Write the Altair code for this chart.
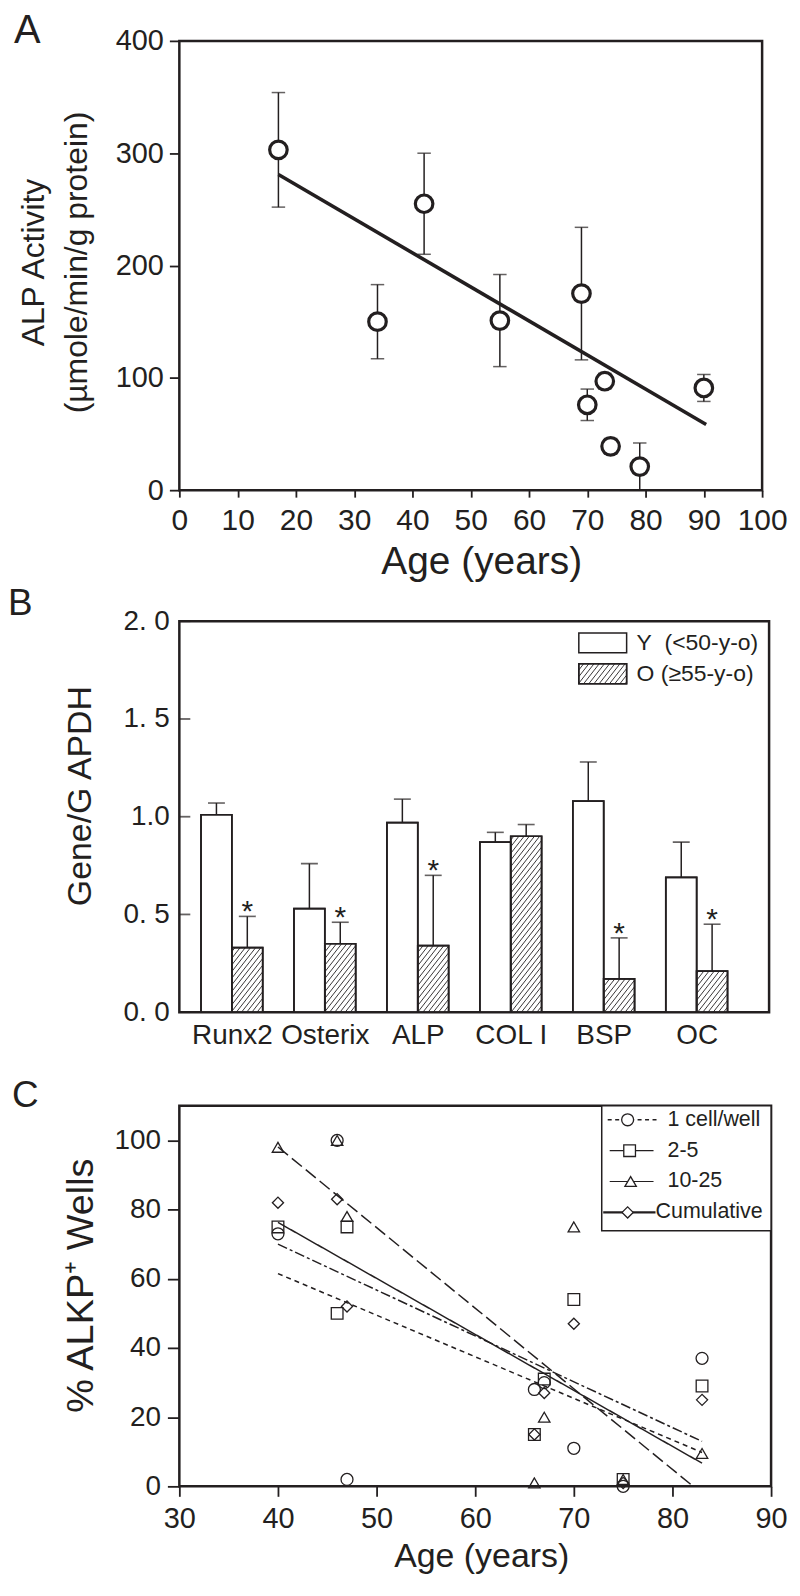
import json
import math
import altair as alt
import pandas as pd

FONT = "Liberation Sans"
INK = "#231f20"

# ---------------- data ----------------
# Panel A: ALP activity vs age (mean, SD) and the regression line
a_age = [17, 34, 42, 55, 69, 70, 73, 74, 79, 90]
a_alp = [303, 150, 255, 151, 175, 76, 97, 39, 21, 91]
a_err = [51, 33, 45, 41, 59, 14, 7, 7, 21, 12]
a_fit_age = [17, 90.4]
a_fit_alp = [281, 58.5]
a_xticks = list(range(0, 101, 10))
a_yticks = [0, 100, 200, 300, 400]

# Panel B: gene expression young vs old
b_genes = ["Runx2", "Osterix", "ALP", "COL I", "BSP", "OC"]
b_young = [1.01, 0.53, 0.97, 0.87, 1.08, 0.69]
b_young_err = [0.06, 0.23, 0.12, 0.05, 0.20, 0.18]
b_old = [0.33, 0.35, 0.34, 0.90, 0.17, 0.21]
b_old_err = [0.16, 0.11, 0.36, 0.06, 0.21, 0.24]
b_star = [True, True, True, False, True, True]
b_groups = ["Y\u00a0 (<50-y-o)", "O (\u226555-y-o)"]
b_yticks = [0, 0.5, 1.0, 1.5, 2.0]
b_ylabels = ["0. 0", "0. 5", "1.0", "1. 5", "2. 0"]

# Panel C: % ALKP+ wells vs age for four seeding densities
c_series = ["1 cell/well", "2-5", "10-25", "Cumulative"]
c_age = [40, 46, 47, 66, 67, 70, 75, 83]
c_one = [73, 100, 2, 28, 30, 11, 0, 37]
c_two = [75, 50, 75, 15, 31, 54, 2, 29]
c_ten = [98, 100, 78, 1, 20, 75, 2, 9.5]
c_cum = [82, 83, 52, 15, 27, 47, 1, 25]
c_fit_age = [[40, 83], [40, 83], [40, 82.1], [40, 83]]
c_fit_val = [[61.5, 9.8], [70, 13.0], [98.1, 0], [76.3, 6.7]]
c_xticks = list(range(30, 91, 10))
c_yticks = list(range(0, 101, 20))

# ---------------- layout ----------------
WA, HA = 585, 451
WB, HB = 592, 392.4
WC, HC = 594, 382
SPACING = 94            # gap B -> C (and A -> B, plus TOPB below)
TOPB = 37.6             # extra empty band at the top of panel B's view
B_DOM = [0.435, 6.779]
BAR_W = 0.332

one = pd.DataFrame({"k": [0]})


def letter(t, x, y, size):
    return alt.Chart(pd.DataFrame({"t": [t]})).mark_text(
        align="left", baseline="alphabetic", fontSize=size, font=FONT, color=INK
    ).encode(text="t:N", x=alt.value(x), y=alt.value(y))


def frame(w, y0, y1):
    return alt.Chart(one).mark_rect(fillOpacity=0, stroke=INK, strokeWidth=2.5).encode(
        x=alt.value(0), x2=alt.value(w), y=alt.value(y0), y2=alt.value(y1))


def hatch(px0, px1, pv0, pv1, spacing=4.1, angle=52.0):
    """Diagonal hatch segments inside a rectangle given in pixel units
    (x to the right, v upwards). Returns list of (xa, va, xb, vb)."""
    t = math.tan(math.radians(angle))
    hs = spacing / math.sin(math.radians(angle))
    h = pv1 - pv0
    segs = []
    k0 = math.floor((px0 - h / t) / hs) - 1
    k1 = math.ceil(px1 / hs) + 1
    for k in range(k0, k1 + 1):
        s = k * hs
        lo = max(0.0, (px0 - s) * t)
        hi = min(h, (px1 - s) * t)
        if hi - lo > 0.3:
            segs.append((s + lo / t, pv0 + lo, s + hi / t, pv0 + hi))
    return segs


# ---------------- Panel A ----------------
def a_x(field):
    return alt.X(f"{field}:Q", scale=alt.Scale(domain=[0, 100], nice=False, zero=False),
                 axis=alt.Axis(values=a_xticks, title="Age (years)", tickSize=7,
                               labelFontSize=30, labelPadding=8, titleFontSize=39,
                               titleX=303, titleY=84, titleBaseline="alphabetic"))


def a_y(field):
    return alt.Y(f"{field}:Q", scale=alt.Scale(domain=[0, 400], nice=False, zero=False),
                 axis=alt.Axis(values=a_yticks, title=["ALP Activity", "(\u00b5mole/min/g protein)"],
                               tickSize=10, labelFontSize=29, labelPadding=6,
                               titleFontSize=32, titleLineHeight=43, titleX=-146, titleY=222,
                               titleBaseline="middle", titleAngle=270))


dfa = pd.DataFrame({"age": a_age, "alp": a_alp, "err": a_err})
dfa["lo"] = (dfa["alp"] - dfa["err"]).clip(lower=0)
dfa["hi"] = dfa["alp"] + dfa["err"]
base_a = alt.Chart(dfa)
a_rule = base_a.mark_rule(color=INK, strokeWidth=1.5).encode(x=a_x("age"), y=a_y("lo"), y2="hi:Q")
a_cap_lo = base_a.mark_tick(orient="horizontal", size=13.5, thickness=1.5, color=INK).encode(
    x=a_x("age"), y=a_y("lo"))
a_cap_hi = base_a.mark_tick(orient="horizontal", size=13.5, thickness=1.5, color=INK).encode(
    x=a_x("age"), y=a_y("hi"))
a_fit = alt.Chart(pd.DataFrame({"age": a_fit_age, "alp": a_fit_alp})).mark_line(
    color=INK, strokeWidth=3.6).encode(x=a_x("age"), y=a_y("alp"))
a_pts = base_a.mark_point(shape="circle", size=310, filled=True, fill="white", stroke=INK,
                          strokeWidth=3.2, opacity=1, fillOpacity=1).encode(x=a_x("age"), y=a_y("alp"))
panelA = alt.layer(frame(WA, 0, HA), a_rule, a_cap_lo, a_cap_hi, a_fit, a_pts,
                   letter("A", -166, 2.3, 40)).properties(width=WA, height=HA)

# ---------------- Panel B ----------------
x_label_expr = json.dumps(b_genes) + "[round(datum.value) - 1]"
y_label_expr = json.dumps(b_ylabels) + "[round(datum.value * 2)]"
HBV = HB + TOPB


def b_x(field):
    return alt.X(f"{field}:Q", scale=alt.Scale(domain=B_DOM, nice=False, zero=False),
                 axis=alt.Axis(values=[1, 2, 3, 4, 5, 6], labelExpr=x_label_expr, ticks=False,
                               tickSize=0, labelFontSize=28, labelPadding=9, title=None))


def b_y(field):
    return alt.Y(f"{field}:Q", scale=alt.Scale(domain=[0, 2], nice=False, zero=False,
                                               range=[HBV, TOPB]),
                 axis=alt.Axis(values=b_yticks, labelExpr=y_label_expr, ticks=False, tickSize=0,
                               labelPadding=10, labelFontSize=28, title="Gene/G APDH",
                               titleFontSize=34, titleX=-99, titleY=175 + TOPB,
                               titleBaseline="middle", titleAngle=270))


rows = []
for i, g in enumerate(b_genes):
    c = i + 1
    rows.append({"gene": g, "grp": "Y", "x0": c - BAR_W, "x1": c, "val": b_young[i],
                 "err": b_young_err[i], "star": False})
    rows.append({"gene": g, "grp": "O", "x0": c, "x1": c + BAR_W, "val": b_old[i],
                 "err": b_old_err[i], "star": b_star[i]})
dfb = pd.DataFrame(rows)
dfb["base"] = 0.0
dfb["xc"] = (dfb["x0"] + dfb["x1"]) / 2
dfb["top"] = dfb["val"] + dfb["err"]

# hatch lines of the old-donor bars, computed in pixel space and mapped back to data
sx = WB / (B_DOM[1] - B_DOM[0])
sy = HB / 2.0
hrows = []
for _, r in dfb[dfb["grp"] == "O"].iterrows():
    for xa, va, xb, vb in hatch((r.x0 - B_DOM[0]) * sx, (r.x1 - B_DOM[0]) * sx, 0.0, r.val * sy):
        hrows.append({"xa": xa / sx + B_DOM[0], "ya": va / sy, "xb": xb / sx + B_DOM[0], "yb": vb / sy})
dfh = pd.DataFrame(hrows)

base_b = alt.Chart(dfb)
b_fill = base_b.mark_rect(fill="white", stroke=INK, strokeWidth=1.7).encode(
    x=b_x("x0"), x2="x1:Q", y=b_y("base"), y2="val:Q")
b_hatch = alt.Chart(dfh).mark_rule(color=INK, strokeWidth=0.9).encode(
    x=b_x("xa"), x2="xb:Q", y=b_y("ya"), y2="yb:Q")
b_outline = base_b.mark_rect(fillOpacity=0, stroke=INK, strokeWidth=1.7).encode(
    x=b_x("x0"), x2="x1:Q", y=b_y("base"), y2="val:Q")
b_err = base_b.mark_rule(color=INK, strokeWidth=1.5).encode(x=b_x("xc"), y=b_y("val"), y2="top:Q")
b_cap = base_b.mark_tick(orient="horizontal", size=17, thickness=1.6, color=INK).encode(
    x=b_x("xc"), y=b_y("top"))
b_ast = base_b.transform_filter("datum.star").mark_text(
    text="*", fontSize=30, font=FONT, color=INK, baseline="alphabetic", dy=5).encode(
    x=b_x("xc"), y=b_y("top"))
b_ticks = alt.Chart(pd.DataFrame({"v": b_yticks})).mark_tick(
    orient="horizontal", size=11, thickness=1.8, color=INK).encode(y=b_y("v"), x=alt.value(5.5))

# legend (inside, top right)
LBX0, LBX1 = 401, 449
LBY = [(TOPB + 11.7, TOPB + 31.7), (TOPB + 42.7, TOPB + 62.7)]
b_leg_boxes = []
for j in range(2):
    b_leg_boxes.append(alt.Chart(one).mark_rect(fill="white", stroke=INK, strokeWidth=1.5).encode(
        x=alt.value(LBX0), x2=alt.value(LBX1), y=alt.value(LBY[j][0]), y2=alt.value(LBY[j][1])))
lh = hatch(LBX0, LBX1, 0.0, LBY[1][1] - LBY[1][0])
dflh = pd.DataFrame([{"xa": xa, "ya": LBY[1][1] - va, "xb": xb, "yb": LBY[1][1] - vb}
                     for xa, va, xb, vb in lh])
b_leg_hatch = alt.Chart(dflh).mark_rule(color=INK, strokeWidth=0.9).encode(
    x=alt.X("xa:Q", scale=None), x2="xb:Q", y=alt.Y("ya:Q", scale=None), y2="yb:Q")
b_leg_outline = alt.Chart(one).mark_rect(fillOpacity=0, stroke=INK, strokeWidth=1.5).encode(
    x=alt.value(LBX0), x2=alt.value(LBX1), y=alt.value(LBY[1][0]), y2=alt.value(LBY[1][1]))
dfl = pd.DataFrame({"label": b_groups, "ly": [(a + b) / 2 for a, b in LBY]})
b_leg_text = alt.Chart(dfl).mark_text(align="left", baseline="middle", fontSize=23, font=FONT,
                                      color=INK).encode(
    text="label:N", x=alt.value(459), y=alt.Y("ly:Q", scale=None))

panelB = alt.layer(frame(WB, TOPB, HBV), b_fill, b_hatch, b_outline, b_err, b_cap, b_ast, b_ticks,
                   *b_leg_boxes, b_leg_hatch, b_leg_outline, b_leg_text,
                   letter("B", -172, TOPB - 6.3, 37)).properties(width=WB, height=HBV)

# ---------------- Panel C ----------------
def c_x(field):
    return alt.X(f"{field}:Q", scale=alt.Scale(domain=[30, 90], nice=False, zero=False),
                 axis=alt.Axis(values=c_xticks, title="Age (years)", tickSize=10,
                               labelFontSize=29, labelPadding=8, titleFontSize=34,
                               titleX=303, titleY=80, titleBaseline="alphabetic"))


def c_y(field):
    return alt.Y(f"{field}:Q", scale=alt.Scale(domain=[0, 110], nice=False, zero=False),
                 axis=alt.Axis(values=c_yticks, title="% ALKP\u207a Wells", tickSize=12,
                               labelFontSize=28, labelPadding=7, titleFontSize=38,
                               titleX=-98, titleY=180, titleBaseline="middle", titleAngle=270))


SHAPES = ["circle", "square", "triangle-up", "diamond"]
SIZES = [144, 125, 150, 115]
DASHES = [[5, 4], [10, 3, 3, 3], [13, 5], [1, 0]]
WIDTHS = [1.5, 1.5, 1.3, 2.2]

vals = [c_one, c_two, c_ten, c_cum]
dfc = pd.DataFrame([{"series": s, "age": a, "val": v}
                    for s, vs in zip(c_series, vals) for a, v in zip(c_age, vs)])
dff = pd.DataFrame([{"series": s, "age": a, "val": v}
                    for s, ax, vx in zip(c_series, c_fit_age, c_fit_val) for a, v in zip(ax, vx)])

shape_enc = alt.Shape("series:N", scale=alt.Scale(domain=c_series, range=SHAPES), legend=None)
size_enc = alt.Size("series:N", scale=alt.Scale(domain=c_series, range=SIZES), legend=None)

c_lines = alt.Chart(dff).mark_line(color=INK).encode(
    x=c_x("age"), y=c_y("val"), detail="series:N",
    strokeDash=alt.StrokeDash("series:N", scale=alt.Scale(domain=c_series, range=DASHES), legend=None),
    strokeWidth=alt.StrokeWidth("series:N", scale=alt.Scale(domain=c_series, range=WIDTHS), legend=None))
c_pts = alt.Chart(dfc).mark_point(filled=False, color=INK, strokeWidth=1.3, opacity=1).encode(
    x=c_x("age"), y=c_y("val"), shape=shape_enc, size=size_enc)

# legend box (inside, top right)
LEG_X0, LEG_X1, LEG_H = 424, WC, 125.5
c_leg_box = alt.Chart(one).mark_rect(fill="white", stroke=INK, strokeWidth=1.5).encode(
    x=alt.value(LEG_X0), x2=alt.value(LEG_X1), y=alt.value(0), y2=alt.value(LEG_H))
LEG_Y = [14 + 31 * i for i in range(4)]
LEG_LX0 = [430, 432, 432, 425.5]
LEG_LX1 = [480, 476, 476, 478]
LEG_MX = [450, 452, 453, 450]
LEG_TX = [490, 490, 490, 478]
LEG_DASH = [[4, 3.5], [1, 0], [1, 0], [1, 0]]
LEG_W = [1.3, 1.2, 1.2, 2.2]
c_leg_lines = [
    alt.Chart(one).mark_rule(color=INK, strokeWidth=LEG_W[i], strokeDash=LEG_DASH[i]).encode(
        x=alt.value(LEG_LX0[i]), x2=alt.value(LEG_LX1[i]), y=alt.value(LEG_Y[i]))
    for i in range(4)
]
dlg = pd.DataFrame({"series": c_series, "ly": LEG_Y, "mx": LEG_MX, "tx": LEG_TX})
c_leg_pts = alt.Chart(dlg).mark_point(filled=True, fill="white", stroke=INK, strokeWidth=1.3,
                                      opacity=1, fillOpacity=1).encode(
    x=alt.X("mx:Q", scale=None), y=alt.Y("ly:Q", scale=None), shape=shape_enc, size=size_enc)
c_leg_text = alt.Chart(dlg).mark_text(align="left", baseline="middle", fontSize=21.5, font=FONT,
                                      color=INK).encode(
    text="series:N", x=alt.X("tx:Q", scale=None), y=alt.Y("ly:Q", scale=None))

panelC = alt.layer(frame(WC, 0, HC), c_lines, c_pts, c_leg_box, *c_leg_lines, c_leg_pts, c_leg_text,
                   letter("C", -168, 1.3, 37)).properties(width=WC, height=HC)

# ---------------- assemble ----------------
chart = alt.vconcat(panelA, panelB, panelC, spacing=SPACING, bounds="flush").properties(
    padding={"left": 0, "top": 0, "right": 4, "bottom": 4}, background="white"
).configure_view(strokeWidth=0, strokeOpacity=0).configure_axis(
    domain=False, grid=False, tickColor=INK, tickWidth=1.8, labelColor=INK, titleColor=INK,
    labelFont=FONT, titleFont=FONT, titleFontWeight="normal", labelFlush=False, labelOverlap=False
)

chart.save("out.html", embed_options={"renderer": "svg", "actions": False})
